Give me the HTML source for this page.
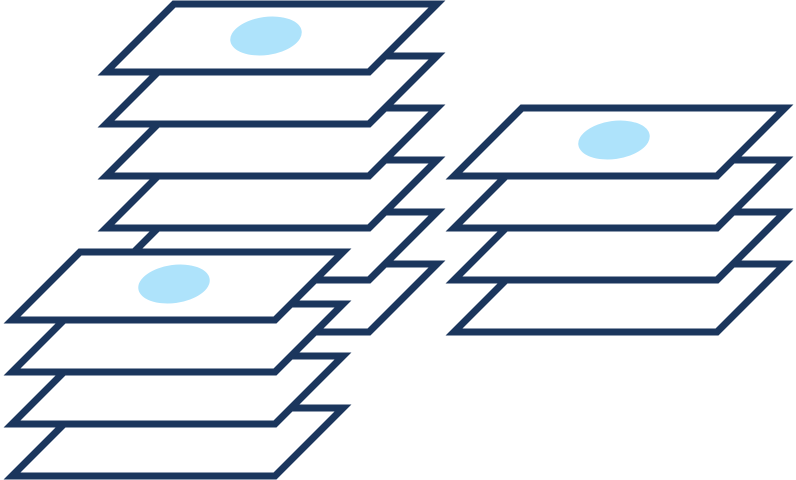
<!DOCTYPE html>
<html><head><style>html,body{margin:0;padding:0;background:#fff}svg{display:block}</style></head>
<body>
<svg width="796" height="480" viewBox="0 0 796 480" xmlns="http://www.w3.org/2000/svg">
<defs>
<polygon id="p" points="0,0 263,0 195,68 -68,68" fill="#fff" stroke="#1b365d" stroke-width="7"/>
</defs>
<!-- top stack (bottom to top) -->
<use href="#p" x="174" y="264"/>
<use href="#p" x="174" y="212"/>
<use href="#p" x="174" y="160"/>
<use href="#p" x="174" y="108"/>
<use href="#p" x="174" y="56"/>
<use href="#p" x="174" y="4"/>
<ellipse cx="266" cy="36" rx="36" ry="19" fill="#aee3fb" transform="rotate(-8 266 36)"/>
<!-- right stack -->
<use href="#p" x="522" y="264"/>
<use href="#p" x="522" y="212"/>
<use href="#p" x="522" y="160"/>
<use href="#p" x="522" y="108"/>
<ellipse cx="614" cy="140" rx="36" ry="19" fill="#aee3fb" transform="rotate(-8 614 140)"/>
<!-- bottom-left stack -->
<use href="#p" x="80" y="408"/>
<use href="#p" x="80" y="356"/>
<use href="#p" x="80" y="304"/>
<use href="#p" x="80" y="252"/>
<ellipse cx="174" cy="284" rx="36" ry="19" fill="#aee3fb" transform="rotate(-8 174 284)"/>
</svg>
</body></html>
